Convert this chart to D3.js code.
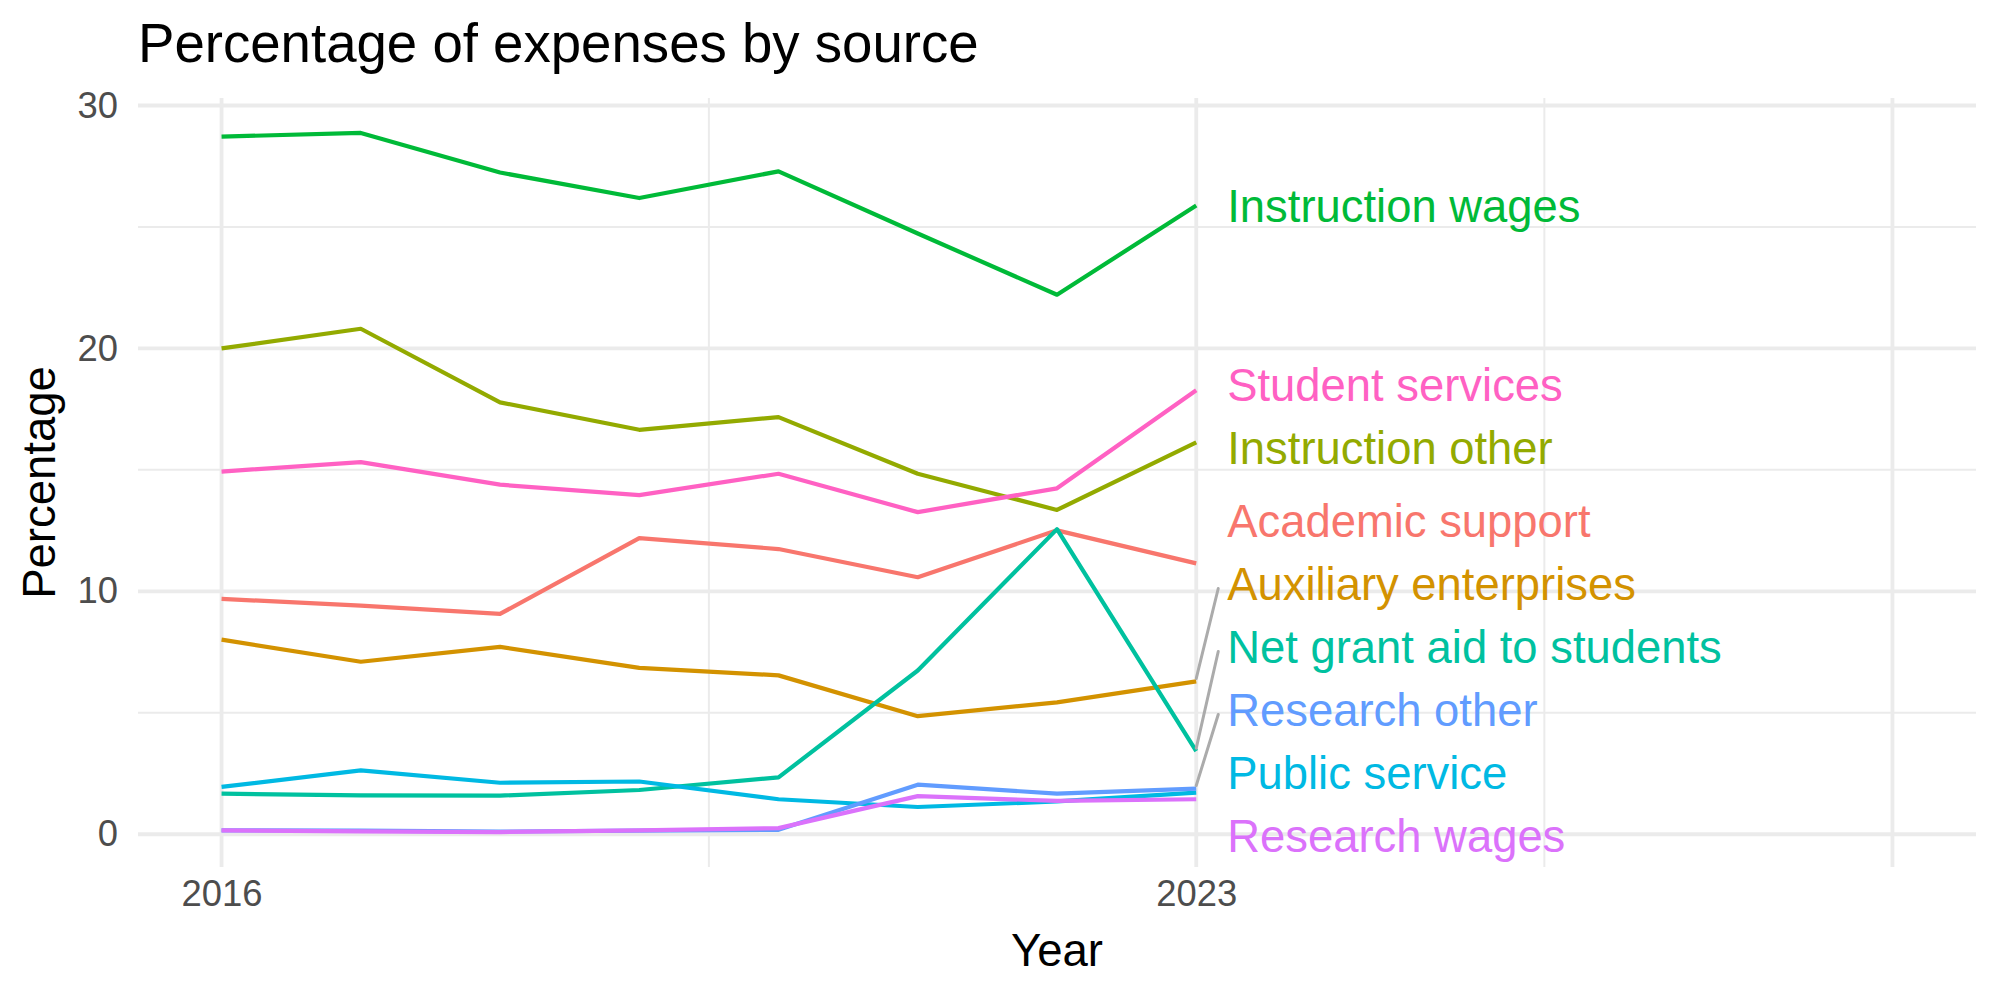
<!DOCTYPE html>
<meta charset="utf-8">
<style>
  body { margin: 0; background: #fff; }
  text { font-family: "Liberation Sans", Arial, sans-serif; }
</style>

<div class="chart"></div>

<script src="https://cdn.jsdelivr.net/npm/d3@7"></script>

<script>
    // data (percent of expenses)
    var years = [2016, 2017, 2018, 2019, 2020, 2021, 2022, 2023];

    var categories = ["Academic support", "Auxiliary enterprises", "Instruction other",
        "Instruction wages", "Net grant aid to students", "Public service",
        "Research other", "Research wages", "Student services"];

    var academicSupport      = [9.69, 9.41, 9.07, 12.19, 11.74, 10.58, 12.51, 11.15];
    var auxiliaryEnterprises = [8.01, 7.10, 7.71, 6.85, 6.54, 4.86, 5.43, 6.29];
    var instructionOther     = [20.00, 20.81, 17.78, 16.65, 17.17, 14.84, 13.35, 16.13];
    var instructionWages     = [28.72, 28.87, 27.24, 26.19, 27.29, 24.73, 22.21, 25.88];
    var netGrantAid          = [1.67, 1.60, 1.59, 1.82, 2.34, 6.74, 12.56, 3.42];
    var publicService        = [1.95, 2.63, 2.12, 2.17, 1.44, 1.12, 1.35, 1.71];
    var researchOther        = [0.16, 0.15, 0.11, 0.15, 0.18, 2.04, 1.67, 1.88];
    var researchWages        = [0.16, 0.12, 0.09, 0.16, 0.25, 1.57, 1.37, 1.44];
    var studentServices      = [14.93, 15.32, 14.39, 13.96, 14.84, 13.26, 14.24, 18.28];

    var seriesValues = [academicSupport, auxiliaryEnterprises, instructionOther,
        instructionWages, netGrantAid, publicService, researchOther,
        researchWages, studentServices];

    // ggplot hue palette
    var colorHold = ["#F8766D", "#D39200", "#93AA00", "#00BA38", "#00C19F",
        "#00B9E3", "#619CFF", "#DB72FB", "#FF61C3"];

    var xLimits = [2016, 2028];          // axis runs past the data to make room for labels
    var xMajor = [2016, 2023, 2028], xMinor = [2019.5, 2025.5];
    var xTickLabels = [2016, 2023];
    var yMajor = [0, 10, 20, 30], yMinor = [5, 15, 25];

    var titleText = "Percentage of expenses by source";

    var W = 2000, H = 1000;
    var panel = {left: 138, right: 1976, top: 98, bottom: 867};

    var series = categories.map(function(c, i) {
        return {
            name: c,
            color: colorHold[i],
            values: years.map(function(y, j) { return {year: y, value: seriesValues[i][j]}; })
        };
    });

    // ggplot-like 5% expansion
    function expand(ext) {
        var pad = (ext[1] - ext[0]) * 0.05;
        return [ext[0] - pad, ext[1] + pad];
    }
    var allVals = d3.merge(seriesValues);

    var x = d3.scaleLinear().domain(expand(xLimits)).range([panel.left, panel.right]);
    var y = d3.scaleLinear().domain(expand(d3.extent(allVals))).range([panel.bottom, panel.top]);

    var svg = d3.select(".chart").append("svg")
        .attr("width", W).attr("height", H);
    svg.append("rect").attr("width", W).attr("height", H).attr("fill", "#fff");

    // grid
    var grid = svg.append("g").attr("class", "grid");
    grid.selectAll(".hminor").data(yMinor).enter().append("line")
        .attr("x1", panel.left).attr("x2", panel.right)
        .attr("y1", function(d) { return y(d); }).attr("y2", function(d) { return y(d); })
        .attr("stroke", "#EBEBEB").attr("stroke-width", 2);
    grid.selectAll(".vminor").data(xMinor).enter().append("line")
        .attr("y1", panel.top).attr("y2", panel.bottom)
        .attr("x1", function(d) { return x(d); }).attr("x2", function(d) { return x(d); })
        .attr("stroke", "#EBEBEB").attr("stroke-width", 2);
    grid.selectAll(".hmajor").data(yMajor).enter().append("line")
        .attr("x1", panel.left).attr("x2", panel.right)
        .attr("y1", function(d) { return y(d); }).attr("y2", function(d) { return y(d); })
        .attr("stroke", "#EBEBEB").attr("stroke-width", 3.8);
    grid.selectAll(".vmajor").data(xMajor).enter().append("line")
        .attr("y1", panel.top).attr("y2", panel.bottom)
        .attr("x1", function(d) { return x(d); }).attr("x2", function(d) { return x(d); })
        .attr("stroke", "#EBEBEB").attr("stroke-width", 3.8);

    // axes (no domain line, no ticks, theme_minimal look)
    var yAxis = d3.axisLeft(y).tickValues(yMajor).tickSize(0).tickPadding(20);
    var gy = svg.append("g").attr("transform", "translate(" + panel.left + ",0)").call(yAxis);
    gy.select(".domain").remove();
    gy.selectAll("text").attr("font-size", "36.4px").attr("fill", "#4D4D4D")
        .attr("font-family", "Liberation Sans, Arial, sans-serif");

    var xAxis = d3.axisBottom(x).tickValues(xTickLabels).tickSize(0).tickPadding(13)
        .tickFormat(d3.format("d"));
    var gx = svg.append("g").attr("transform", "translate(0," + panel.bottom + ")").call(xAxis);
    gx.select(".domain").remove();
    gx.selectAll("text").attr("font-size", "36.4px").attr("fill", "#4D4D4D")
        .attr("font-family", "Liberation Sans, Arial, sans-serif");

    // lines
    var line = d3.line()
        .x(function(d) { return x(d.year); })
        .y(function(d) { return y(d.value); });

    svg.append("g").selectAll("path").data(series).enter().append("path")
        .attr("d", function(d) { return line(d.values); })
        .attr("fill", "none")
        .attr("stroke", function(d) { return d.color; })
        .attr("stroke-width", 4.2)
        .attr("stroke-linejoin", "round");

    // end labels, pushed apart like ggrepel
    var gap = 63, labelDx = 31, labelSize = 45.4;
    var items = series.map(function(s) {
        var last = s.values[s.values.length - 1];
        return {s: s, target: y(last.value), px: x(last.year)};
    }).sort(function(a, b) { return a.target - b.target; });

    function spread(items, lo, hi) {
        var clusters = items.map(function(d) { return {m: [d]}; });
        function place(c) {
            var n = c.m.length;
            var top = d3.mean(c.m, function(d) { return d.target; }) - (n - 1) * gap / 2;
            top = Math.max(lo, Math.min(top, hi - (n - 1) * gap));
            c.top = top;
            c.bottom = top + (n - 1) * gap;
        }
        clusters.forEach(place);
        var merged = true;
        while (merged) {
            merged = false;
            for (var i = 0; i < clusters.length - 1; i++) {
                if (clusters[i].bottom + gap > clusters[i + 1].top + 0.01) {
                    clusters[i].m = clusters[i].m.concat(clusters[i + 1].m);
                    clusters.splice(i + 1, 1);
                    place(clusters[i]);
                    merged = true;
                    break;
                }
            }
        }
        clusters.forEach(function(c) {
            c.m.forEach(function(d, k) { d.ly = c.top + k * gap; });
        });
    }
    spread(items, panel.top + 31.5, panel.bottom - 31.5);

    var labels = svg.append("g").attr("class", "labels");
    labels.selectAll("line").data(items.filter(function(d) { return Math.abs(d.ly - d.target) > 60; }))
        .enter().append("line")
        .attr("x1", function(d) { return d.px; })
        .attr("y1", function(d) { return d.target - 3; })
        .attr("x2", function(d) { return d.px + labelDx - 9; })
        .attr("y2", function(d) { return d.ly + 5; })
        .attr("stroke", "#ABABAB")
        .attr("stroke-width", 3)
        .attr("stroke-linecap", "round");

    labels.selectAll("text").data(items).enter().append("text")
        .attr("x", function(d) { return d.px + labelDx; })
        .attr("y", function(d) { return d.ly; })
        .attr("dy", "0.36em")
        .attr("font-size", labelSize + "px")
        .attr("fill", function(d) { return d.s.color; })
        .text(function(d) { return d.s.name; });

    // titles
    svg.append("text")
        .attr("x", panel.left).attr("y", 62)
        .attr("font-size", "54.6px").attr("fill", "#000")
        .text(titleText);

    svg.append("text")
        .attr("x", (panel.left + panel.right) / 2).attr("y", 966)
        .attr("font-size", "45.5px").attr("fill", "#000")
        .style("text-anchor", "middle")
        .text("Year");

    svg.append("text")
        .attr("transform", "translate(55," + ((panel.top + panel.bottom) / 2) + ") rotate(-90)")
        .attr("font-size", "45.5px").attr("fill", "#000")
        .style("text-anchor", "middle")
        .text("Percentage");
</script>
